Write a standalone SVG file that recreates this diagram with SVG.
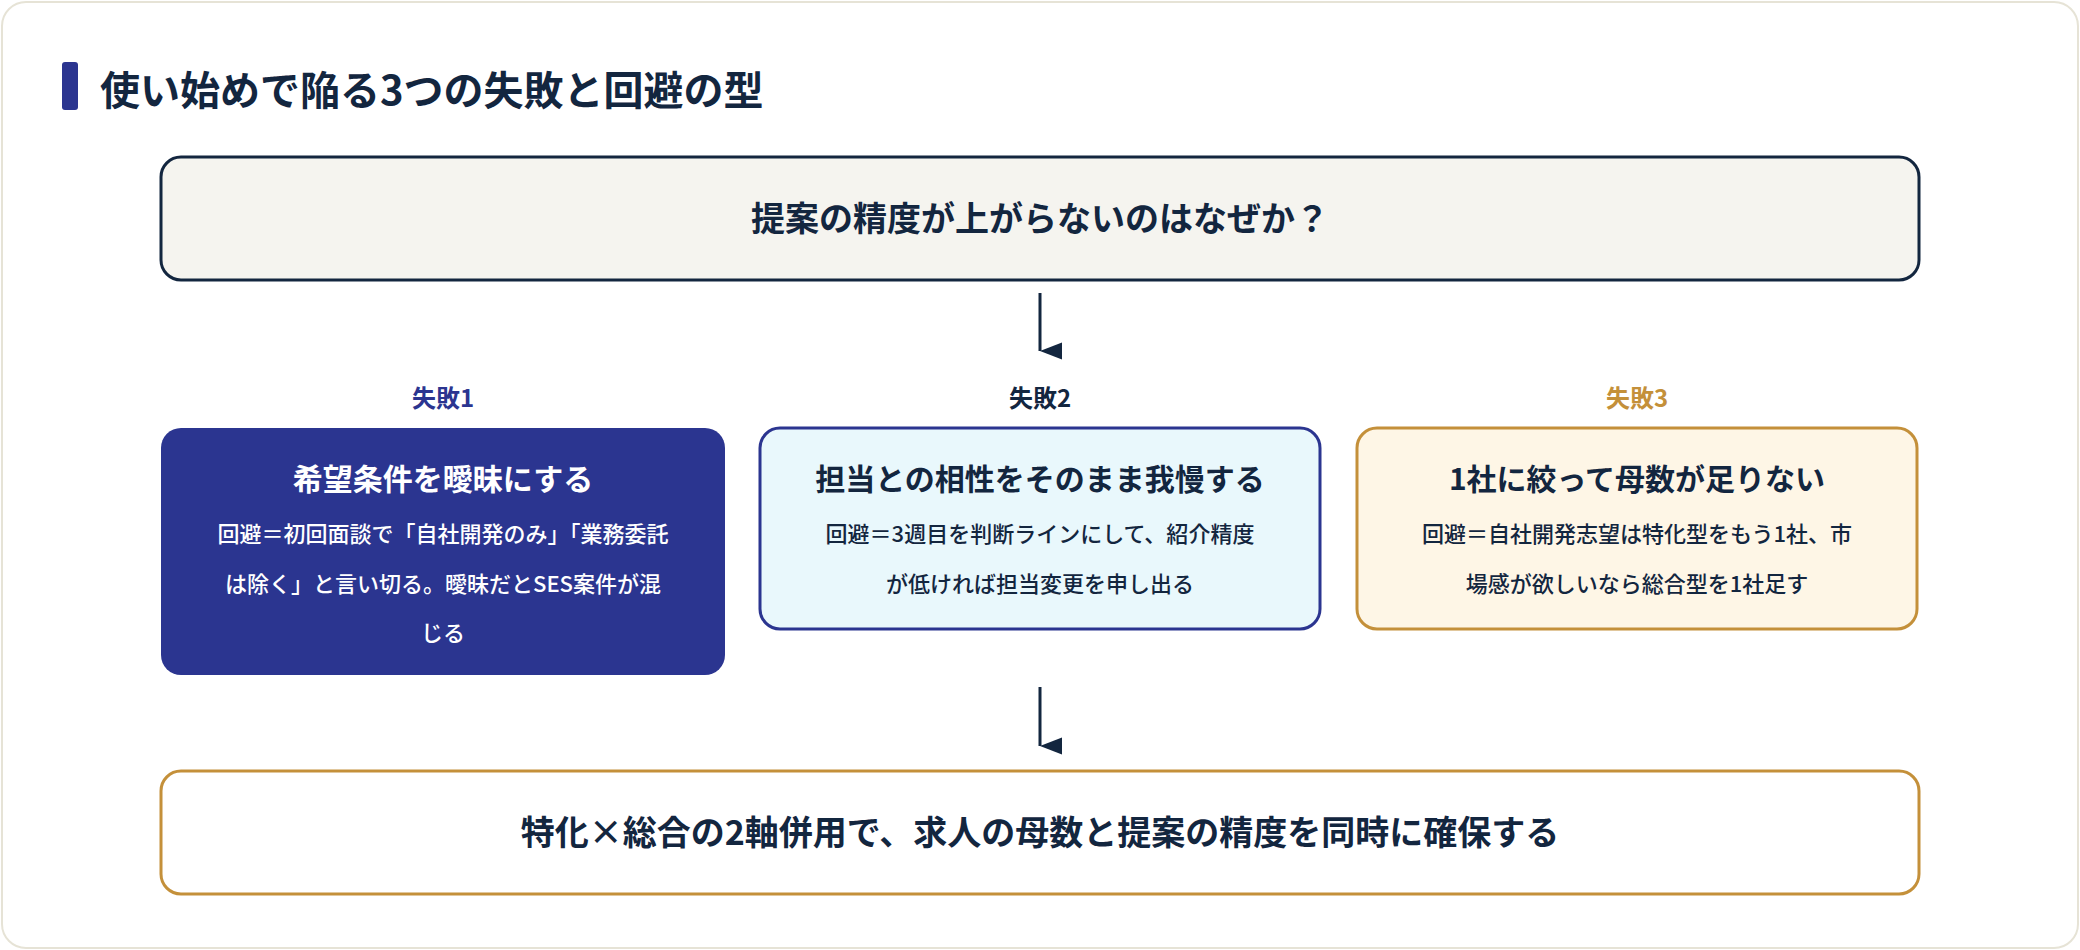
<svg xmlns="http://www.w3.org/2000/svg" width="2080" height="950" viewBox="0 0 2080 950">
<style>
text{font-family:"Noto Sans CJK JP","Noto Sans",sans-serif;text-anchor:middle}
.b{font-weight:700}
.body{font-size:22px;font-weight:500}
.dk{fill:#13263f}
</style>
<defs><marker id="ah" markerWidth="10" markerHeight="10" refX="5" refY="9" orient="auto" markerUnits="userSpaceOnUse" viewBox="0 0 10 10"><path d="M0,0L10,0L5,10Z" fill="#13263f"/></marker>
<marker id="a2" viewBox="0 0 14 18" markerWidth="28" markerHeight="22" refX="7" refY="18" orient="auto" markerUnits="userSpaceOnUse"><path d="M0,0L14,0L7,18Z" fill="#13263f"/></marker></defs>
<rect x="2" y="2" width="2076" height="946" rx="24" fill="#fff" stroke="#e6e3d6" stroke-width="2"/>
<g id="title"><rect x="62" y="62" width="16" height="48" rx="3" fill="#2b3590"/><text x="100" y="105" class="b dk" font-size="40" style="text-anchor:start">使い始めで陥る3つの失敗と回避の型</text></g>
<g id="q"><rect x="161" y="157" width="1758" height="123" rx="20" fill="#f5f4ef" stroke="#13263f" stroke-width="3"/><text x="1040" y="231" class="b dk" font-size="34">提案の精度が上がらないのはなぜか？</text></g>
<g id="connectors" stroke="#13263f" stroke-width="3"><line x1="1040" y1="293" x2="1040" y2="351" marker-end="url(#a2)"/><line x1="1040" y1="687" x2="1040" y2="746" marker-end="url(#a2)"/></g>
<g id="f1"><text x="443" y="407" class="b" font-size="24" fill="#2b3590">失敗1</text><rect x="161" y="428" width="564" height="247" rx="20" fill="#2b3590"/><text x="443" y="490" class="b" font-size="30" fill="#fff">希望条件を曖昧にする</text><text class="body" fill="#fff"><tspan x="443" y="542">回避＝初回面談で「自社開発のみ」「業務委託</tspan><tspan x="443" y="592">は除く」と言い切る。曖昧だとSES案件が混</tspan><tspan x="443" y="641">じる</tspan></text></g>
<g id="f2"><text x="1040" y="407" class="b dk" font-size="24">失敗2</text><rect x="760" y="428" width="560" height="201" rx="20" fill="#e9f8fc" stroke="#2b3590" stroke-width="3"/><text x="1040" y="490" class="b dk" font-size="30">担当との相性をそのまま我慢する</text><text class="body dk"><tspan x="1040" y="542">回避＝3週目を判断ラインにして、紹介精度</tspan><tspan x="1040" y="592">が低ければ担当変更を申し出る</tspan></text></g>
<g id="f3"><text x="1637" y="407" class="b" font-size="24" fill="#c4903a">失敗3</text><rect x="1357" y="428" width="560" height="201" rx="20" fill="#fef6e6" stroke="#c4903a" stroke-width="3"/><text x="1637" y="490" class="b dk" font-size="30">1社に絞って母数が足りない</text><text class="body dk"><tspan x="1637" y="542">回避＝自社開発志望は特化型をもう1社、市</tspan><tspan x="1637" y="592">場感が欲しいなら総合型を1社足す</tspan></text></g>
<g id="concl"><rect x="161" y="771" width="1758" height="123" rx="20" fill="#fff" stroke="#c4903a" stroke-width="3"/><text x="1040" y="845" class="b dk" font-size="34">特化×総合の2軸併用で、求人の母数と提案の精度を同時に確保する</text></g>
</svg>
